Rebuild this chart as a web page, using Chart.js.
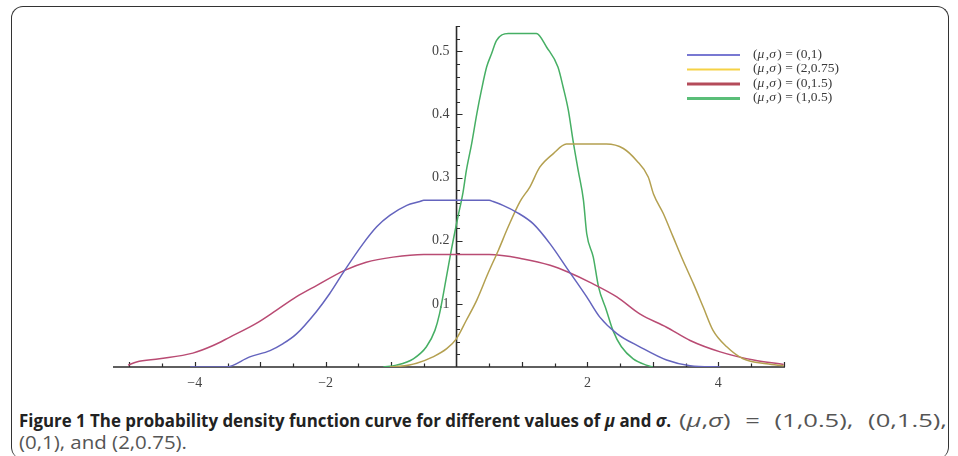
<!DOCTYPE html>
<html>
<head>
<meta charset="utf-8">
<script src="https://cdn.jsdelivr.net/npm/chart.js@4.4.1/dist/chart.umd.min.js"></script>
<style>
  html, body { margin: 0; padding: 0; background: #fff; }
  body { width: 958px; height: 456px; position: relative; overflow: hidden; }
  #frame {
    position: absolute; left: 11px; top: 6px; width: 936px; height: 452px;
    border: 1.5px solid #333; border-bottom: none; border-radius: 12px;
  }
  #chartBox { position: absolute; left: 0; top: 0; width: 958px; height: 395px; }
  .cap {
    position: absolute; white-space: nowrap;
    font-family: "Open Sans", sans-serif; font-size: 18.5px; line-height: 22px; color: #555;
    transform-origin: left top;
  }
  .cap b { color: #222; font-weight: 700; }
  #capBold { left: 19px; top: 409px; }
  #capReg1 { left: 679px; top: 409px; }
  #capReg2 { left: 19px; top: 431px; }
</style>
</head>
<body>
<div id="frame"></div>
<div id="chartBox"><canvas id="pdfChart"></canvas></div>
<div class="cap" id="capBold"><b>Figure 1 The probability density function curve for different values of <i>μ</i> and <i>σ</i>.</b></div>
<div class="cap" id="capReg1">(<i>μ</i>,<i>σ</i>) = (1,0.5), (0,1.5),</div>
<div class="cap" id="capReg2">(0,1), and (2,0.75).</div>

<script>
// values
const seriesLabels = ['(0,1)', '(2,0.75)', '(0,1.5)', '(1,0.5)'];

const blueX = [-4.07, -3.52, -3.16, -2.85, -2.65, -2.45, -2.14, -1.94, -1.71,
  -1.43, -1.22, -1.02, -0.76, -0.56, -0.5, 0.5, 0.56, 0.71, 0.92,
  1.17, 1.43, 1.71, 1.99, 2.19, 2.45, 2.80, 3.21, 3.57, 4.03];
const blueY = [0, 0, 0.016, 0.026, 0.037, 0.052, 0.088, 0.116, 0.153,
  0.195, 0.222, 0.240, 0.256, 0.262, 0.264, 0.264, 0.262, 0.256, 0.245,
  0.227, 0.195, 0.153, 0.111, 0.079, 0.053, 0.032, 0.011, 0.002, 0];

const yellowX = [-1.02, -0.87, -0.61, -0.36, -0.15, 0, 0.15, 0.31, 0.48, 0.64,
  0.79, 0.97, 1.12, 1.27, 1.48, 1.68, 2.29, 2.55, 2.75, 2.93,
  3.01, 3.16, 3.31, 3.46, 3.62, 3.77, 3.92, 4.13, 4.38, 4.74, 5.0];
const yellowY = [0, 0.001, 0.006, 0.016, 0.029, 0.045, 0.074, 0.106, 0.148, 0.185,
  0.222, 0.262, 0.285, 0.316, 0.338, 0.353, 0.353, 0.346, 0.327, 0.301,
  0.274, 0.243, 0.206, 0.169, 0.132, 0.095, 0.058, 0.032, 0.013, 0.005, 0.002];

const redX = [-5.02, -4.89, -4.54, -4.03, -3.72, -3.47, -3.06, -2.75, -2.45, -2.14,
  -1.71, -1.38, -0.97, -0.5, 0.5, 1.02, 1.43, 1.71, 2.04, 2.45,
  2.80, 3.21, 3.57, 4.03, 4.54, 5.0];
const redY = [0.003, 0.008, 0.013, 0.022, 0.034, 0.047, 0.069, 0.090, 0.111, 0.129,
  0.153, 0.166, 0.174, 0.178, 0.178, 0.171, 0.161, 0.150, 0.134, 0.111,
  0.084, 0.063, 0.042, 0.024, 0.011, 0.004];

const greenX = [-1.12, -0.92, -0.66, -0.46, -0.33, -0.26, -0.15, -0.08, 0.02, 0.10,
  0.15, 0.23, 0.31, 0.38, 0.46, 0.535, 0.61, 0.79, 1.22, 1.38,
  1.55, 1.63, 1.71, 1.78, 1.86, 1.94, 1.99, 2.09, 2.17, 2.29,
  2.39, 2.52, 2.70, 2.90, 3.0];
const greenY = [0, 0.003, 0.013, 0.032, 0.058, 0.084, 0.145, 0.185, 0.237, 0.277,
  0.311, 0.353, 0.401, 0.438, 0.475, 0.496, 0.517, 0.528, 0.528, 0.506,
  0.475, 0.443, 0.406, 0.359, 0.311, 0.264, 0.211, 0.174, 0.127, 0.090,
  0.058, 0.032, 0.013, 0.003, 0];

const xTicks = [-4, -2, 2, 4];
const yTicks = [0.1, 0.2, 0.3, 0.4, 0.5];
const xMinor = 0.5;
const yMinor = 0.02;

function toPoints(xs, ys) {
  return xs.map((x, i) => ({ x: x, y: ys[i] }));
}

// mathematica style axes crossing at the origin, ticks pointing inward
const mathAxes = {
  id: 'mathAxes',
  beforeDatasetsDraw(chart) {
    const { ctx, chartArea, scales: { x, y } } = chart;
    const x0 = x.getPixelForValue(0);
    const y0 = y.getPixelForValue(0);
    ctx.save();
    ctx.strokeStyle = '#2b2b2b';
    ctx.lineWidth = 1.6;
    ctx.beginPath();
    ctx.moveTo(chartArea.left, y0);
    ctx.lineTo(chartArea.right, y0);
    ctx.moveTo(x0, y0);
    ctx.lineTo(x0, chartArea.top);
    ctx.stroke();

    ctx.lineWidth = 1.2;
    ctx.beginPath();
    const nx = Math.floor(x.max / xMinor);
    for (let i = Math.ceil(x.min / xMinor); i <= nx; i++) {
      if (i === 0) continue;
      const px = Math.round(x.getPixelForValue(i * xMinor)) + 0.5;
      const len = i % 2 === 0 ? 5 : 3.5;
      ctx.moveTo(px, y0);
      ctx.lineTo(px, y0 - len);
    }
    const ny = Math.floor(y.max / yMinor + 1e-6);
    for (let i = 1; i <= ny; i++) {
      const py = Math.round(y.getPixelForValue(i * yMinor)) + 0.5;
      const len = i % 5 === 0 ? 6 : 3.5;
      ctx.moveTo(x0, py);
      ctx.lineTo(x0 + len, py);
    }
    ctx.stroke();
    ctx.restore();
  }
};

// legend at upper right, Mathematica style
const mathLegend = {
  id: 'mathLegend',
  afterDraw(chart) {
    const { ctx } = chart;
    const opts = chart.options.plugins.mathLegend;
    ctx.save();
    chart.data.datasets.forEach((ds, i) => {
      const ly = opts.top + i * opts.rowGap;
      ctx.strokeStyle = ds.legendColor;
      ctx.lineWidth = ds.legendWidth;
      ctx.beginPath();
      ctx.moveTo(opts.left, ly);
      ctx.lineTo(opts.left + opts.lineLen, ly);
      ctx.stroke();

      let tx = opts.left + opts.lineLen + opts.gap;
      const parts = [['(', ''], ['μ', 'italic '], [',', ''], ['σ', 'italic '], [') = ' + seriesLabels[i], '']];
      ctx.fillStyle = '#3a3a3a';
      ctx.textBaseline = 'middle';
      parts.forEach(([t, style]) => {
        ctx.font = style + '13.5px "Liberation Serif", serif';
        ctx.fillText(t, tx, ly - 1);
        tx += ctx.measureText(t).width + (style ? 1.5 : 0);
      });
    });
    ctx.restore();
  }
};

const ctx = document.getElementById('pdfChart').getContext('2d');

new Chart(ctx, {
  type: 'line',
  data: {
    datasets: [
      { label: seriesLabels[0], data: toPoints(blueX, blueY), borderColor: 'rgb(100, 100, 190)', legendColor: 'rgb(120, 120, 210)', legendWidth: 2 },
      { label: seriesLabels[1], data: toPoints(yellowX, yellowY), borderColor: 'rgb(180, 160, 80)', legendColor: 'rgb(245, 210, 70)', legendWidth: 2 },
      { label: seriesLabels[2], data: toPoints(redX, redY), borderColor: 'rgb(185, 75, 115)', legendColor: 'rgb(180, 75, 90)', legendWidth: 3 },
      { label: seriesLabels[3], data: toPoints(greenX, greenY), borderColor: 'rgb(70, 175, 100)', legendColor: 'rgb(90, 190, 120)', legendWidth: 3 },
    ],
  },
  options: {
    responsive: true,
    maintainAspectRatio: false,
    animation: false,
    layout: { padding: { left: 113, right: 173, top: 26, bottom: 28 } },
    elements: {
      point: { radius: 0 },
      line: { borderWidth: 1.5, cubicInterpolationMode: 'monotone', fill: false },
    },
    scales: {
      x: {
        type: 'linear',
        min: -5.25,
        max: 5.02,
        position: { y: 0 },
        grid: { display: false, drawTicks: false },
        border: { display: false },
        afterBuildTicks: (scale) => { scale.ticks = xTicks.map(v => ({ value: v })); },
        ticks: {
          padding: 8,
          color: '#444',
          font: { family: '"Liberation Serif", serif', size: 14 },
          callback: (v) => (v < 0 ? '\u2212' + Math.abs(v) : String(v)),
        },
      },
      y: {
        type: 'linear',
        min: 0,
        max: 0.54,
        position: { x: 0 },
        grid: { display: false, drawTicks: false },
        border: { display: false },
        afterBuildTicks: (scale) => { scale.ticks = yTicks.map(v => ({ value: v })); },
        ticks: {
          color: '#444',
          font: { family: '"Liberation Serif", serif', size: 14 },
          // labels sit right on the axis line when it is placed at x = 0, so pad with a space
          callback: (v) => v.toFixed(1) + '\u2002',
        },
      },
    },
    plugins: {
      legend: { display: false },
      tooltip: { enabled: false },
      mathLegend: { left: 687, top: 55, rowGap: 14.5, lineLen: 53, gap: 13 },
    },
  },
  plugins: [mathAxes, mathLegend],
});

// squeeze caption pieces to the condensed widths of the original;
// the first line is justified, so the regular part gets a bit wider word gaps
function fitTo(id, width) {
  const el = document.getElementById(id);
  const w = el.getBoundingClientRect().width;
  const s = width / w;
  el.style.transform = 'scaleX(' + s.toFixed(4) + ')';
  return s;
}
fitTo('capBold', 652);
const regScale = fitTo('capReg2', 168) * 1.25;
const reg1 = document.getElementById('capReg1');
reg1.style.transform = 'scaleX(' + regScale.toFixed(4) + ')';
const natural = reg1.getBoundingClientRect().width;
reg1.style.wordSpacing = Math.max(0, (268 - natural) / 3 / regScale).toFixed(2) + 'px';
</script>
</body>
</html>
